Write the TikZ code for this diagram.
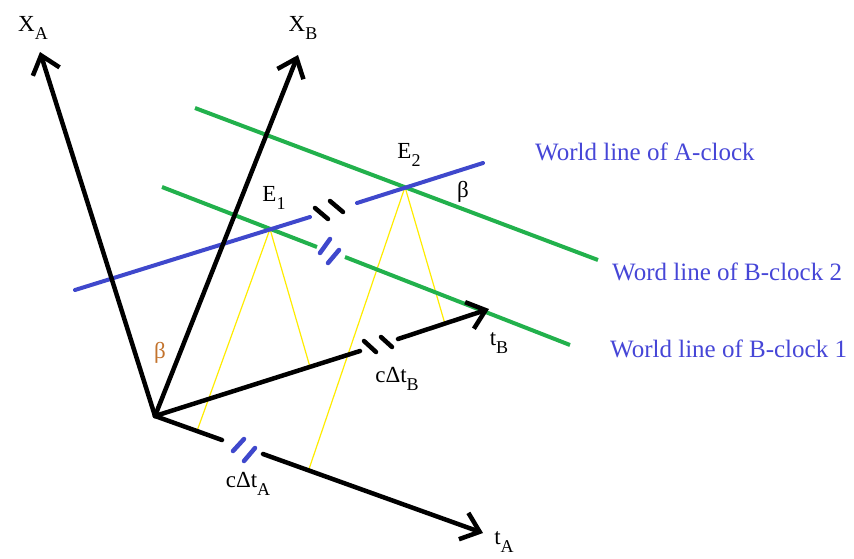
\documentclass[tikz,border=0pt]{standalone}
\usepackage{fontspec}
\setmainfont{Liberation Serif}
\usetikzlibrary{arrows.meta}
\definecolor{wlblue}{RGB}{63,72,204}
\definecolor{txtblue}{RGB}{70,70,215}
\definecolor{wlgreen}{RGB}{34,177,76}
\definecolor{ray}{RGB}{255,236,0}
\definecolor{betaor}{RGB}{195,115,45}
\newcommand{\mysub}[1]{\raisebox{-0.32em}{\fontsize{18}{18}\selectfont #1}}
\tikzset{
  axis/.style={line width=4.5pt, line cap=round, black},
  axisarrow/.style={axis, -{Straight Barb[length=17pt,width=28pt,line width=4.5pt]}},
  bline/.style={line width=4pt, wlblue, line cap=round},
  gline/.style={line width=4pt, wlgreen},
  tick/.style={line width=4.5pt, line cap=round},
  rayline/.style={line width=1.2pt, ray},
  lab/.style={font=\fontsize{23}{27}\selectfont, inner sep=0pt},
  wlab/.style={font=\fontsize{25}{30}\selectfont, text=txtblue, anchor=west, inner sep=0pt}
}
\begin{document}
\begin{tikzpicture}[x=1pt,y=-1pt]
\useasboundingbox (0,0) rectangle (854,558);
% key points
\coordinate (O) at (155,416);
\coordinate (XA) at (40,52);
\coordinate (XB) at (298,55);
\coordinate (TA) at (483,533);
\coordinate (TB) at (489,309);
\coordinate (E1) at (270,229);
\coordinate (E2) at (405,187);
% yellow light rays
\coordinate (a1) at (197,431);
\coordinate (b1) at (310,367);
\coordinate (a2) at (308,472);
\coordinate (b2) at (445,324);
\draw[rayline] (a1) -- (E1) -- (b1);
\draw[rayline] (a2) -- (E2) -- (b2);
% green world lines of B-clocks
\coordinate (G2s) at (195,108);
\coordinate (G2e) at (598,260);
\draw[gline] (G2s) -- (G2e);
\coordinate (G1s) at (162,187);
\coordinate (G1m) at (317,247);
\coordinate (G1n) at (345,257);
\coordinate (G1e) at (570,345);
\draw[gline] (G1s) -- (G1m);
\draw[gline] (G1n) -- (G1e);
\draw[tick, wlblue] (320,253) -- (330,239);
\draw[tick, wlblue] (328,263) -- (339,250);
% blue world line of A-clock
\coordinate (Bs) at (75,290);
\coordinate (Bm) at (310,217);
\coordinate (Bn) at (357,203);
\coordinate (Be) at (483,163);
\draw[bline] (Bs) -- (Bm);
\draw[bline] (Bn) -- (Be);
\draw[tick] (315,208) -- (328,219);
\draw[tick] (330,201) -- (343,212);
% axes
\draw[axisarrow] (O) -- (XA);
\draw[axisarrow] (O) -- (XB);
\coordinate (TAm) at (222,440);
\coordinate (TAn) at (263,454);
\draw[axis] (O) -- (TAm);
\draw[axisarrow] (TAn) -- (TA);
\draw[tick, wlblue] (233,451) -- (244,439);
\draw[tick, wlblue] (244,461) -- (255,448);
\coordinate (TBm) at (360,351);
\coordinate (TBn) at (398,339);
\draw[axis] (O) -- (TBm);
\draw[axisarrow] (TBn) -- (TB);
\draw[tick] (364,341) -- (376,352);
\draw[tick] (381,337) -- (392,347);
% labels
\node[lab] (lXA) at (33,28) {X\mysub{A}};
\node[lab] (lXB) at (303,28) {X\mysub{B}};
\node[lab] (lE1) at (274,198) {E\mysub{1}};
\node[lab] (lE2) at (409,155) {E\mysub{2}};
\node[lab] (lb2) at (463,192) {β};
\node[lab, text=betaor] (lb1) at (160,353) {β};
\node[lab] (ltB) at (499,343) {t\mysub{B}};
\node[lab] (ltA) at (504,542) {t\mysub{A}};
\node[lab] (ldB) at (397,379) {cΔt\mysub{B}};
\node[lab] (ldA) at (248,484) {cΔt\mysub{A}};
\node[wlab] (wA) at (535,152) {World line of A-clock};
\node[wlab] (wB2) at (612,272) {Word line of B-clock 2};
\node[wlab] (wB1) at (610,349) {World line of B-clock 1};
\end{tikzpicture}
\end{document}
